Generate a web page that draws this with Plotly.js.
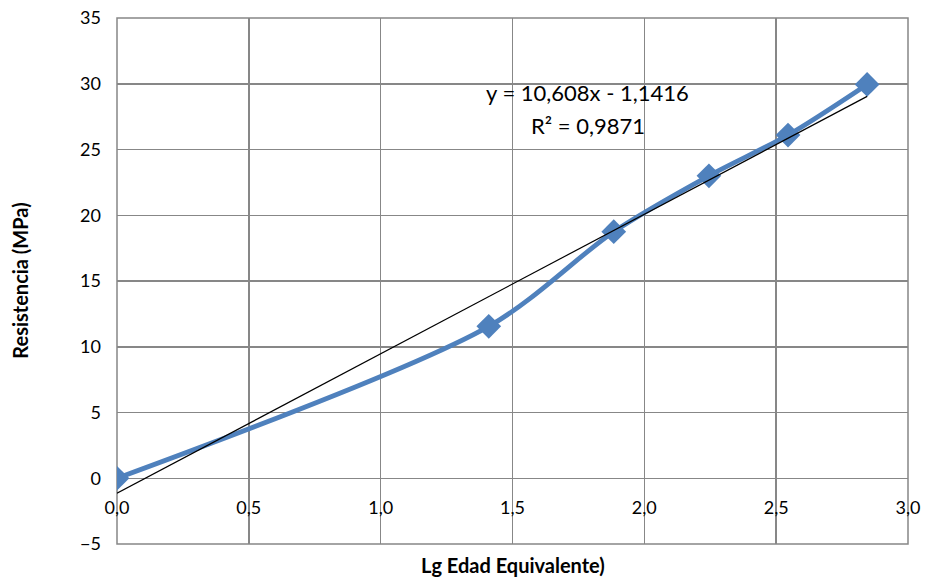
<!DOCTYPE html>
<html>
<head>
<meta charset="utf-8">
<script src="https://cdn.plot.ly/plotly-3.0.1.min.js"></script>
<style>html,body{margin:0;padding:0;background:#fff}#chart{width:925px;height:581px}</style>
</head>
<body>
<div id="chart"></div>
<script>
const lgEdad = [0, 1.41, 1.884, 2.245, 2.545, 2.845];
const resistencia = [0, 11.55, 18.75, 23.0, 26.1, 29.95];
const trendSlope = 10.608;
const trendIntercept = -1.1416;
const trendX = [0, 2.845];
const trendY = trendX.map(x => trendSlope * x + trendIntercept);
const xTicks = [0, 0.5, 1.0, 1.5, 2.0, 2.5, 3.0];
const yTicks = [-5, 0, 5, 10, 15, 20, 25, 30, 35];
const eqText = 'y = 10,608x - 1,1416';
const r2Text = 'R² = 0,9871';
const xTitle = 'Lg Edad Equivalente)';
const yTitle = 'Resistencia (MPa)';

const fam = 'Lato, "Open Sans", sans-serif';
const font = {family: fam, size: 18, color: '#000'};
const grid = '#878787';

const data = [
  {x: lgEdad, y: resistencia, type: 'scatter', mode: 'lines+markers',
   line: {color: '#4F81BD', width: 4.8, shape: 'spline', smoothing: 0.85},
   marker: {symbol: 'diamond', size: 19, color: '#4F81BD'}, showlegend: false},
  {x: trendX, y: trendY, type: 'scatter', mode: 'lines',
   line: {color: '#000', width: 1.2}, showlegend: false}
];

const layout = {
  width: 925, height: 581,
  margin: {l: 117, r: 17, t: 18, b: 37, pad: 0},
  separators: ', ',
  paper_bgcolor: '#fff', plot_bgcolor: '#fff',
  font: font,
  xaxis: {range: [0, 3], tickvals: xTicks, tickformat: '.1f', showgrid: true,
          gridcolor: grid, gridwidth: 1.5, zeroline: false, showline: false,
          anchor: 'free', position: 0.125, ticks: '', ticklabelstandoff: 17,
          tickfont: font},
  yaxis: {range: [-5, 35], tickvals: yTicks, showgrid: true, gridcolor: grid,
          gridwidth: 1.5, zeroline: true, zerolinecolor: grid, zerolinewidth: 1.5,
          ticks: '', ticklabelstandoff: 15, tickfont: font},
  shapes: [
    {type: 'rect', xref: 'paper', yref: 'paper', x0: 0, x1: 1, y0: 0, y1: 1,
     line: {color: grid, width: 1.5}, layer: 'below'}
  ],
  annotations: [
    {xref: 'paper', yref: 'paper', x: 0.5, y: -0.04, xanchor: 'center', yanchor: 'middle',
     text: '<b>' + xTitle + '</b>', showarrow: false, font: {family: fam, size: 20, color: '#000'}},
    {xref: 'paper', yref: 'paper', x: -0.123, y: 0.5, xanchor: 'center', yanchor: 'middle',
     textangle: -90, text: '<b>' + yTitle + '</b>', showarrow: false, font: {family: fam, size: 20, color: '#000'}},
    {xref: 'x', yref: 'y', x: 1.785, y: 29.3, xanchor: 'center', yanchor: 'middle',
     text: eqText, showarrow: false, font: {family: fam, size: 22, color: '#000'}},
    {xref: 'x', yref: 'y', x: 1.785, y: 26.8, xanchor: 'center', yanchor: 'middle',
     text: r2Text, showarrow: false, font: {family: fam, size: 22, color: '#000'}}
  ]
};

Plotly.newPlot('chart', data, layout, {displayModeBar: false, staticPlot: true});
</script>
</body>
</html>
